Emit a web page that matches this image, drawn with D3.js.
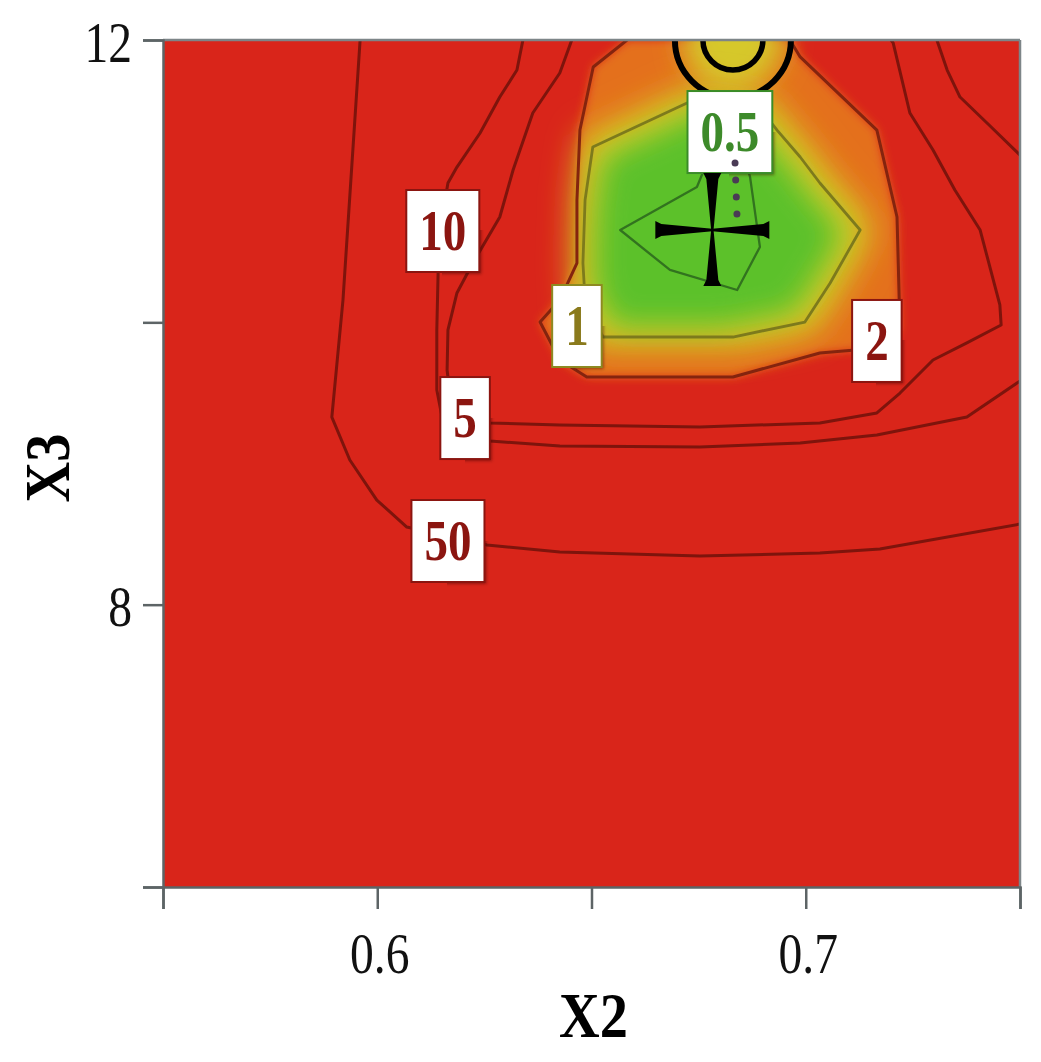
<!DOCTYPE html>
<html><head><meta charset="utf-8">
<script src="https://cdn.jsdelivr.net/npm/d3@7"></script>
<style>
html,body{margin:0;padding:0;background:#fff;}
svg{display:block;}
text{font-family:"Liberation Serif","Times New Roman",serif;}
</style></head><body>
<svg id="chart" width="1041" height="1062"></svg>
<script>
// ---- axis ticks ----
const xTicks = [0.55, 0.6, 0.65, 0.7, 0.75];
const xTickLabels = ["", "0.6", "", "0.7", ""];
const yTicks = [6, 8, 10, 12];
const yTickLabels = ["", "8", "", "12"];
const xTitle = "X2";
const yTitle = "X3";

// ---- contour lines (X2, X3) ----
const contour05 = [[0.6772,11.150],[0.6746,10.959],[0.6567,10.654],[0.6683,10.371],[0.6840,10.229],[0.6893,10.534],[0.6870,11.030],[0.6858,11.150]];
const contour1 = [[0.6753,11.589],[0.6723,11.554],[0.6503,11.242],[0.6485,10.867],[0.6480,10.420],[0.6485,10.158],[0.6527,9.896],[0.6830,9.896],[0.6998,10.002],[0.7057,10.279],[0.7127,10.654],[0.7033,10.987],[0.6987,11.171],[0.6933,11.362],[0.6893,11.518]];
const contour2 = [[0.6583,12.0],[0.6504,11.809],[0.6473,11.362],[0.6466,10.867],[0.6466,10.420],[0.6426,10.158],[0.6380,10.002],[0.6426,9.733],[0.6489,9.613],[0.6830,9.613],[0.7033,9.783],[0.7115,9.804],[0.7220,9.946],[0.7213,10.746],[0.7166,11.362],[0.6987,11.880],[0.6963,12.0]];
const contour5 = [[0.6454,12.0],[0.6426,11.766],[0.6363,11.483],[0.6317,11.079],[0.6286,10.746],[0.6223,10.420],[0.6186,10.208],[0.6165,9.946],[0.6163,9.662],[0.6174,9.379],[0.6263,9.287],[0.6426,9.273],[0.6753,9.259],[0.7033,9.287],[0.7166,9.358],[0.7220,9.499],[0.7297,9.733],[0.7376,9.854],[0.7456,9.981],[0.7453,10.123],[0.7407,10.654],[0.7348,10.937],[0.7297,11.221],[0.7243,11.483],[0.7204,11.979],[0.7199,12.0]];
const contour10a = [[0.6340,12.0],[0.6326,11.787],[0.6286,11.596],[0.6240,11.341],[0.6186,11.100],[0.6165,10.987],[0.6146,10.654],[0.6142,10.349],[0.6139,9.946],[0.6139,9.521],[0.6158,9.223],[0.6263,9.159],[0.6426,9.124],[0.6753,9.117],[0.6987,9.145],[0.7166,9.202],[0.7376,9.329],[0.75,9.584]];
const contour10b = [[0.7306,12.0],[0.7330,11.787],[0.7360,11.596],[0.7423,11.412],[0.75,11.185]];
const contour50 = [[0.5960,12.0],[0.5920,10.158],[0.5894,9.329],[0.5936,9.025],[0.5999,8.741],[0.6069,8.550],[0.6256,8.423],[0.6426,8.373],[0.6753,8.345],[0.7033,8.366],[0.7173,8.394],[0.75,8.571]];

// ---- contour labels ----
const labelTexts = ["0.5", "10", "1", "2", "5", "50"];
const labelX2 = [0.6823, 0.6153, 0.6466, 0.7166, 0.6205, 0.6165];
const labelX3 = [11.348, 10.647, 9.974, 9.868, 9.322, 8.451];
const labelKinds = ["green", "red", "olive", "red", "red", "red"];

// ---- markers ----
const optimumPoint = [0.6782, 10.654];
const dropLine = [[0.6835, 11.129], [0.6840, 10.72]];
const bullseyePoint = [0.6830, 12.0];

const W = 1041, H = 1062;
const L = 163, R = 1020, T = 40, B = 887;
const svg = d3.select("#chart");
const x = d3.scaleLinear().domain([0.55, 0.75]).range([L, R]);
const y = d3.scaleLinear().domain([6, 12]).range([B, T]);
const line = d3.line().x(d => x(d[0])).y(d => y(d[1]));
const closed = d3.line().x(d => x(d[0])).y(d => y(d[1])).curve(d3.curveLinearClosed);

const defs = svg.append("defs");
defs.append("clipPath").attr("id", "plotClip").append("rect")
  .attr("x", L).attr("y", T).attr("width", R - L).attr("height", B - T);
function filt(id, ops) {
  const f = defs.append("filter").attr("id", id).attr("filterUnits", "userSpaceOnUse")
    .attr("x", 0).attr("y", 0).attr("width", W).attr("height", H);
  let src = "SourceGraphic";
  ops.forEach((o, i) => {
    const el = f.append(o.type).attr("in", src).attr("result", "r" + i);
    Object.entries(o.attrs).forEach(([k, v]) => el.attr(k, v));
    src = "r" + i;
  });
}
filt("fOrange", [{type: "feGaussianBlur", attrs: {stdDeviation: 5}}]);
filt("fYellow", [{type: "feMorphology", attrs: {operator: "dilate", radius: 10}}, {type: "feGaussianBlur", attrs: {stdDeviation: 16}}]);
filt("fGreen", [{type: "feMorphology", attrs: {operator: "erode", radius: 10}}, {type: "feGaussianBlur", attrs: {stdDeviation: 15}}]);
filt("fSoft", [{type: "feGaussianBlur", attrs: {stdDeviation: 14}}]);
filt("fShadow", [{type: "feGaussianBlur", attrs: {stdDeviation: 1.5}}]);

// ---- filled field ----
const field = svg.append("g").attr("clip-path", "url(#plotClip)");
field.append("rect").attr("x", L).attr("y", T).attr("width", R - L).attr("height", B - T).attr("fill", "#d9251a");
field.append("path").attr("d", closed(contour2)).attr("fill", "#e4701d").attr("filter", "url(#fOrange)");
field.append("circle").attr("cx", x(bullseyePoint[0])).attr("cy", y(bullseyePoint[1])).attr("r", 50)
  .attr("fill", "#d6c82a").attr("filter", "url(#fSoft)");
field.append("path").attr("d", closed(contour1)).attr("fill", "#d7cc28").attr("filter", "url(#fYellow)");
field.append("path").attr("d", closed(contour1)).attr("fill", "#5cc12b").attr("filter", "url(#fGreen)");

// ---- contour lines ----
const lines = svg.append("g").attr("clip-path", "url(#plotClip)").attr("fill", "none").attr("stroke-linejoin", "round");
[contour50, contour10a, contour10b, contour5].forEach(c =>
  lines.append("path").attr("d", line(c)).attr("stroke", "#7e140c").attr("stroke-width", 3));
lines.append("path").attr("d", line(contour2)).attr("stroke", "#84240e").attr("stroke-width", 3);
lines.append("path").attr("d", closed(contour1)).attr("stroke", "#7d7a1c").attr("stroke-width", 2.8);
lines.append("path").attr("d", closed(contour05)).attr("stroke", "#32731f").attr("stroke-width", 2.3);

// ---- bullseye ----
const marks = svg.append("g").attr("clip-path", "url(#plotClip)");
marks.append("circle").attr("cx", x(bullseyePoint[0])).attr("cy", y(bullseyePoint[1])).attr("r", 58)
  .attr("fill", "none").attr("stroke", "#000").attr("stroke-width", 6);
marks.append("circle").attr("cx", x(bullseyePoint[0])).attr("cy", y(bullseyePoint[1])).attr("r", 30)
  .attr("fill", "none").attr("stroke", "#000").attr("stroke-width", 5.5);

// ---- labels ----
const kindColor = {red: "#8b1510", olive: "#8a7a1c", green: "#3d8a2a"};
const kindBorder = {red: "#8b1510", olive: "#8d8a22", green: "#3a8c28"};
const lab = svg.append("g");
labelTexts.forEach((t, i) => {
  const cx = x(labelX2[i]), cy = y(labelX3[i]);
  const g = lab.append("g").attr("transform", `translate(${cx},${cy})`);
  const rect = g.append("rect");
  const shadow = g.insert("rect", "rect");
  const tx = g.append("text").text(t).attr("text-anchor", "middle")
    .attr("font-size", 56).attr("font-weight", "bold").attr("fill", kindColor[labelKinds[i]])
    .attr("transform", "translate(0,19) scale(0.84,1)");
  const bw = tx.node().getComputedTextLength() * 0.84 + 26, bh = 82;
  shadow.attr("x", -bw / 2 + 2).attr("y", -bh / 2 + 2).attr("width", bw).attr("height", bh)
    .attr("fill", "rgba(60,0,0,0.45)").attr("filter", "url(#fShadow)");
  rect.attr("x", -bw / 2).attr("y", -bh / 2).attr("width", bw).attr("height", bh)
    .attr("fill", "#fff").attr("stroke", kindBorder[labelKinds[i]]).attr("stroke-width", 2);
});

// ---- drop line & optimum cross ----
svg.append("path").attr("d", line(dropLine)).attr("stroke", "#4a3a55").attr("stroke-width", 7)
  .attr("stroke-linecap", "round").attr("stroke-dasharray", "0,17").attr("fill", "none");
const ox = x(optimumPoint[0]), oy = y(optimumPoint[1]);
const arm = len => `M0,-1.2 L${len - 6},-6 L${len},-9 L${len},9 L${len - 6},6 L0,1.2 Z`;
const cross = svg.append("g").attr("transform", `translate(${ox},${oy})`);
[[0, 57], [90, 56], [180, 57], [270, 57]].forEach(([a, len]) =>
  cross.append("path").attr("d", arm(len)).attr("transform", `rotate(${a})`).attr("fill", "#000"));

// ---- frame ----
svg.append("line").attr("x1", L).attr("x2", R).attr("y1", T).attr("y2", T).attr("stroke", "#7d8588").attr("stroke-width", 2.5);
svg.append("line").attr("x1", R).attr("x2", R).attr("y1", T).attr("y2", B).attr("stroke", "#7d8588").attr("stroke-width", 2.5);

// ---- axes ----
const ax = svg.append("g").attr("transform", `translate(0,${B})`)
  .call(d3.axisBottom(x).tickValues(xTicks).tickFormat((d, i) => xTickLabels[i]).tickSize(22));
const ay = svg.append("g").attr("transform", `translate(${L},0)`)
  .call(d3.axisLeft(y).tickValues(yTicks).tickFormat((d, i) => yTickLabels[i]).tickSize(20));
[ax, ay].forEach(g => {
  g.select(".domain").attr("stroke", "#5d6466").attr("stroke-width", 2.5);
  g.selectAll(".tick line").attr("stroke", "#5d6466").attr("stroke-width", 2.5);
  g.selectAll(".tick text").attr("font-size", 58).attr("fill", "#111")
    .attr("font-family", "'Liberation Serif','Times New Roman',serif");
});
ax.selectAll(".tick text").attr("y", null).attr("dy", null).attr("text-anchor", "middle")
  .attr("transform", "translate(2,86) scale(0.82,1)");
ay.selectAll(".tick text").attr("x", null).attr("dy", null).attr("text-anchor", "end")
  .attr("transform", "translate(-31,21) scale(0.82,1)");

svg.append("text").text(xTitle).attr("text-anchor", "middle").attr("font-size", 64).attr("font-weight", "bold")
  .attr("fill", "#000").attr("transform", `translate(${(L + R) / 2 + 2},1037) scale(0.88,1)`);
svg.append("text").text(yTitle).attr("text-anchor", "middle").attr("font-size", 64).attr("font-weight", "bold")
  .attr("fill", "#000").attr("transform", `translate(69,468) rotate(-90) scale(0.88,1)`);
</script>
</body></html>
